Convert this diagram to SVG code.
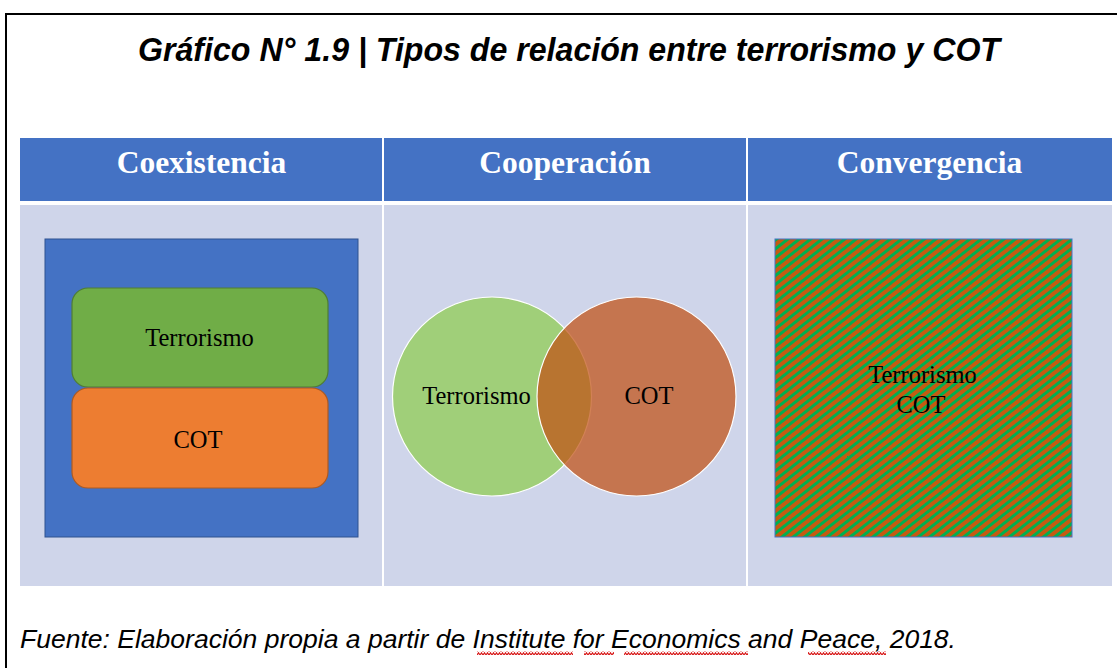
<svg xmlns="http://www.w3.org/2000/svg" width="1117" height="668" viewBox="0 0 1117 668">
<style>
.title{font-family:"Liberation Sans",Arial,sans-serif;font-weight:bold;font-style:italic;font-size:33px;fill:#000}
.hdr{font-family:"Liberation Serif","Times New Roman",serif;font-weight:bold;font-size:31.5px;fill:#fff}
.lbl{font-family:"Liberation Serif","Times New Roman",serif;font-size:24.5px;fill:#000}
.foot{font-family:"Liberation Sans",Arial,sans-serif;font-style:italic;font-size:26px;fill:#000}
</style>
<defs>
<pattern id="stripes" width="7" height="10" patternUnits="userSpaceOnUse" patternTransform="rotate(52)">
<rect x="0" y="0" width="7" height="10" fill="#C55A11"/>
<rect x="0" y="0" width="3" height="10" fill="#00B050"/>
</pattern>
<pattern id="wave" width="6" height="4" patternUnits="userSpaceOnUse">
<path d="M0,3 L1.5,0.8 L3,3 L4.5,0.8 L6,3" fill="none" stroke="#d81b1b" stroke-width="1.2"/>
</pattern>
</defs>
<rect width="1117" height="668" fill="#fff"/>
<path d="M6,668 V14 H1117" fill="none" stroke="#000" stroke-width="2"/>
<text class="title" x="138" y="61" textLength="862" lengthAdjust="spacingAndGlyphs">Gráfico N° 1.9 | Tipos de relación entre terrorismo y COT</text>

<g id="table">
<rect x="20" y="138" width="1092" height="63" fill="#4472C4"/>
<rect x="20" y="205" width="1092" height="381" fill="#CFD5EA"/>
<rect x="382" y="138" width="2" height="448" fill="#fff"/>
<rect x="746" y="138" width="2" height="448" fill="#fff"/>
<text class="hdr" x="201.5" y="173" text-anchor="middle">Coexistencia</text>
<text class="hdr" x="565" y="173" text-anchor="middle">Cooperación</text>
<text class="hdr" x="929.5" y="173" text-anchor="middle">Convergencia</text>
</g>

<g id="coexistencia">
<rect x="45" y="239" width="313" height="298" fill="#4472C4" stroke="#2F528F" stroke-width="1"/>
<rect x="72" y="288" width="256" height="99" rx="16" fill="#70AD47" stroke="#507E32" stroke-width="1.2"/>
<rect x="72" y="388" width="256" height="100" rx="16" fill="#ED7D31" stroke="#AE5A21" stroke-width="1.2"/>
<text class="lbl" x="199.5" y="346" text-anchor="middle">Terrorismo</text>
<text class="lbl" x="198" y="448" text-anchor="middle">COT</text>
</g>

<g id="cooperacion">
<circle cx="492" cy="396.5" r="99.5" fill="#A0CF79" stroke="#fff" stroke-width="1.2"/>
<circle cx="636.5" cy="396.5" r="99.5" fill="#C15013" fill-opacity="0.72" stroke="#fff" stroke-width="1.2"/>
<text class="lbl" x="476.5" y="404" text-anchor="middle">Terrorismo</text>
<text class="lbl" x="649" y="404" text-anchor="middle">COT</text>
</g>

<g id="convergencia">
<rect x="775" y="239" width="297" height="298" fill="url(#stripes)" stroke="#4472C4" stroke-width="1"/>
<text class="lbl" x="922.5" y="383" text-anchor="middle">Terrorismo</text>
<text class="lbl" x="921" y="413" text-anchor="middle">COT</text>
</g>

<g id="connectors"></g>

<g id="footer">
<text class="foot" x="20" y="648" textLength="936" lengthAdjust="spacingAndGlyphs">Fuente: Elaboración propia a partir de Institute for Economics and Peace, 2018.</text>
<rect x="477" y="651" width="96" height="4" fill="url(#wave)"/>
<rect x="584" y="651" width="30" height="4" fill="url(#wave)"/>
<rect x="624" y="651" width="124" height="4" fill="url(#wave)"/>
<rect x="808" y="651" width="78" height="4" fill="url(#wave)"/>
</g>
</svg>
